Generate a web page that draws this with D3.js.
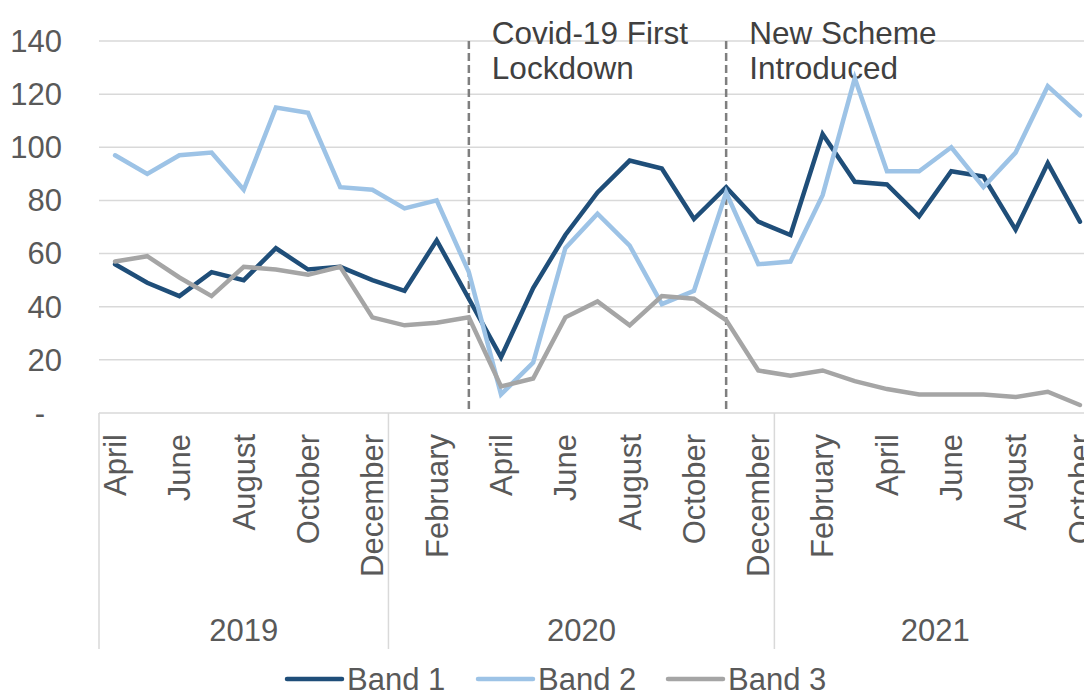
<!DOCTYPE html>
<html><head><meta charset="utf-8">
<script src="https://cdn.jsdelivr.net/npm/d3@7"></script>
<style>html,body{margin:0;padding:0;background:#fff;overflow:hidden}</style>
</head><body><svg id="c" width="1084" height="691"></svg>
<script>
const months = ["April","May","June","July","August","September","October","November","December",
  "January","February","March","April","May","June","July","August","September","October","November","December",
  "January","February","March","April","May","June","July","August","September","October"];
const years = ["2019","2020","2021"];
const yearCounts = [9,12,10];
const band1 = [56,49,44,53,50,62,54,55,50, 46,65,43,21,47,67,83,95,92,73,85,72, 67,105,87,86,74,91,89,69,94,72];
const band2 = [97,90,97,98,84,115,113,85,84, 77,80,53,7,19,62,75,63,41,46,83,56, 57,82,126,91,91,100,85,98,123,112];
const band3 = [57,59,51,44,55,54,52,55,36, 33,34,36,10,13,36,42,33,44,43,35,16, 14,16,12,9,7,7,7,6,8,3];
const seriesNames = ["Band 1","Band 2","Band 3"];
const yTicks = [0,20,40,60,80,100,120,140];
const yTickLabels = ["-","20","40","60","80","100","120","140"];
const eventIndex = [11,19];
const eventLines = [["Covid-19 First","Lockdown"],["New Scheme","Introduced"]];

(function(){
const colors = ["#1F4E79","#9DC3E6","#A5A5A5"];
const font = "'Liberation Sans', Arial, sans-serif";
const axisColor = "#595959";
const gridColor = "#D9D9D9";

const svg = d3.select("#c");
const pLeft = 99, pRight = 1096, pTop = 41, pBottom = 413, catBottom = 649;

const x = d3.scaleBand().domain(d3.range(months.length)).range([pLeft, pRight]).padding(0);
const cx = i => x(i) + x.bandwidth()/2;
const y = d3.scaleLinear().domain([0,140]).range([pBottom, pTop]);

// gridlines
svg.append("g").selectAll("line").data(yTicks).join("line")
  .attr("x1", pLeft).attr("x2", pRight)
  .attr("y1", d => y(d)).attr("y2", d => y(d))
  .attr("stroke", gridColor).attr("stroke-width", 1.5);

// y labels
svg.append("g").selectAll("text").data(yTicks).join("text")
  .attr("x", 62).attr("y", d => y(d)).attr("dy", "0.35em")
  .attr("dx", (d,i) => yTickLabels[i] === "-" ? -17 : 0)
  .attr("text-anchor", "end")
  .attr("font-family", font).attr("font-size", 31).attr("fill", axisColor)
  .text((d,i) => yTickLabels[i]);

// category group separators
let acc = 0;
const bounds = [0];
yearCounts.forEach(c => { acc += c; bounds.push(acc); });
svg.append("g").selectAll("line").data(bounds.slice(0, -1)).join("line")
  .attr("x1", d => x(d)).attr("x2", d => x(d))
  .attr("y1", pBottom).attr("y2", catBottom)
  .attr("stroke", gridColor).attr("stroke-width", 1.5);

// month labels
svg.append("g").selectAll("text").data(months.map((m,i)=>({m,i})).filter(d => d.i % 2 === 0)).join("text")
  .attr("transform", d => `translate(${cx(d.i)},434) rotate(-90)`)
  .attr("dy", "0.35em")
  .attr("text-anchor", "end")
  .attr("font-family", font).attr("font-size", 31).attr("fill", axisColor)
  .text(d => d.m);

// year labels
svg.append("g").selectAll("text").data(years).join("text")
  .attr("x", (d,i) => (x(bounds[i]) + (bounds[i+1] < months.length ? x(bounds[i+1]) : pRight)) / 2)
  .attr("y", 641)
  .attr("text-anchor", "middle")
  .attr("font-family", font).attr("font-size", 31).attr("fill", axisColor)
  .text(d => d);

// event dashed lines
svg.append("g").selectAll("line").data(eventIndex).join("line")
  .attr("x1", d => cx(d)).attr("x2", d => cx(d))
  .attr("y1", y(140)).attr("y2", pBottom)
  .attr("stroke", "#7F7F7F").attr("stroke-width", 2.5).attr("stroke-dasharray", "8,4");

// event text
eventIndex.forEach((idx, k) => {
  const t = svg.append("text")
    .attr("x", cx(idx) + 23).attr("y", 43.5)
    .attr("font-family", font).attr("font-size", 31.5).attr("fill", "#404040");
  eventLines[k].forEach((s, j) => {
    t.append("tspan").attr("x", cx(idx) + 23).attr("dy", j === 0 ? 0 : 35).text(s);
  });
});

// lines
const line = d3.line().x((d,i) => cx(i)).y(d => y(d));
[band1, band2, band3].forEach((data, k) => {
  svg.append("path").datum(data)
    .attr("d", line)
    .attr("fill", "none").attr("stroke", colors[k]).attr("stroke-width", 4.5)
    .attr("stroke-linejoin", "miter").attr("stroke-miterlimit", 4).attr("stroke-linecap", "round");
});

// legend
const legX = [287, 478, 668];
const leg = svg.append("g");
seriesNames.forEach((n, k) => {
  leg.append("line").attr("x1", legX[k]).attr("x2", legX[k] + 55)
    .attr("y1", 679).attr("y2", 679)
    .attr("stroke", colors[k]).attr("stroke-width", 4.5).attr("stroke-linecap", "round");
  leg.append("text").attr("x", legX[k] + 60).attr("y", 690)
    .attr("font-family", font).attr("font-size", 31).attr("fill", axisColor).text(n);
});
})();
</script></body></html>
